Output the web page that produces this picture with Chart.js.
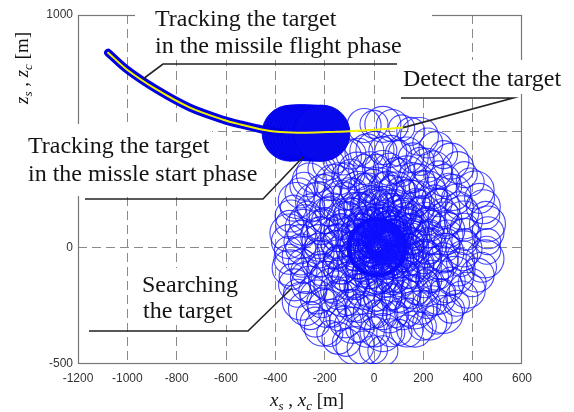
<!DOCTYPE html>
<html>
<head>
<meta charset="utf-8">
<script src="https://cdn.jsdelivr.net/npm/chart.js@4.4.0/dist/chart.umd.min.js"></script>
<style>
html,body{margin:0;padding:0;background:#fff;}
#c{display:block;}
</style>
</head>
<body>
<canvas id="c" width="574" height="412"></canvas>
<script>
// ---- data (metres) ----
const xTicks = [-1200,-1000,-800,-600,-400,-200,0,200,400,600];
const yTicks = [-500,0,500,1000];

// search beam footprints, sweep arm 1 (centres)
const searchX = [36,36,36,36,35,33,32,30,28,26,23,20,17,14,11,8,6,3,0,-2,-4,-6,-8,-9,-10,-10,-10,-9,-7,-5,-3,0,4,8,12,18,23,30,36,43,50,58,65,73,81,88,96,103,110,117,124,130,135,140,144,147,149,151,152,151,150,148,145,141,135,129,122,114,105,95,84,73,61,49,36,23,9,-4,-18,-32,-45,-58,-71,-83,-94,-105,-115,-124,-132,-138,-144,-148,-150,-152,-152,-150,-147,-142,-136,-128,-119,-109,-97,-84,-69,-54,-37,-20,-2,17,36,56,76,95,115,135,153,172,190,206,222,237,250,262,272,281,287,292,295,296,295,292,287,280,271,260,247,232,216,198,178,157,134,111,87,62,36,10,-16,-42,-68,-93,-118,-142,-165,-186,-206,-224,-241,-256,-269,-279,-287,-293,-296,-297,-295,-291,-284,-274,-262,-248,-231,-212,-191,-167,-142,-116,-87,-58,-27,4,36,68,101,133,165,196,226,256,283,310,334,356,378,398,418,436,450,457,461,462,460,453,443,428,410,390,366,340,312,282,251,218,184,149,112,74,36,0,-40];
const searchY = [26,28,30,32,34,36,38,40,41,42,42,43,43,42,41,40,38,36,33,30,26,22,18,13,8,3,-2,-7,-13,-18,-23,-29,-34,-38,-43,-47,-50,-53,-56,-58,-59,-59,-59,-58,-56,-53,-50,-45,-40,-34,-28,-20,-12,-4,6,16,26,37,48,59,70,82,93,104,114,125,135,144,153,160,168,174,178,182,185,187,187,186,184,180,175,169,161,152,142,131,118,105,91,76,60,43,26,9,-9,-27,-45,-62,-79,-96,-112,-128,-142,-155,-168,-179,-188,-196,-203,-208,-211,-212,-211,-209,-204,-198,-190,-180,-168,-155,-140,-123,-105,-86,-65,-44,-21,2,26,50,75,99,123,147,170,193,214,234,253,271,287,301,313,323,331,337,340,341,339,336,329,320,309,296,280,262,242,220,196,171,144,116,87,57,26,-5,-36,-67,-98,-128,-157,-185,-212,-237,-261,-282,-302,-319,-334,-346,-355,-362,-365,-366,-364,-358,-350,-338,-324,-307,-287,-264,-239,-212,-183,-151,-118,-84,-48,-11,26,64,102,139,176,212,248,282,314,344,372,400,425,450,478,500,515,525,530,530,525];

// search beam footprints, sweep arm 2 (centres)
const search2X = [36,36,36,36,37,39,40,42,44,46,49,52,55,58,61,64,66,69,72,74,76,78,80,81,82,82,82,81,79,77,75,72,68,64,60,54,49,42,36,29,22,14,7,-1,-9,-16,-24,-31,-38,-45,-52,-58,-63,-68,-72,-75,-77,-79,-80,-79,-78,-76,-73,-69,-63,-57,-50,-42,-33,-23,-12,-1,11,23,36,49,63,76,90,104,117,130,143,155,166,177,187,196,204,210,216,220,222,224,224,222,219,214,208,200,191,181,169,156,141,126,109,92,74,55,36,16,-4,-23,-43,-63,-81,-100,-118,-134,-150,-165,-178,-190,-200,-209,-215,-220,-223,-224,-223,-220,-215,-208,-199,-188,-175,-160,-144,-126,-106,-85,-62,-39,-15,10,36,62,88,114,140,165,190,214,237,258,278,296,313,328,341,351,359,365,368,369,367,363,356,346,334,320,303,284,263,239,214,188,159,130,99,68,36,4,-29,-61,-93,-124,-154,-184,-211,-238,-262,-284,-300,-315,-327,-336,-342,-345,-347,-347,-345,-340,-332,-322,-310,-295,-278,-258,-238,-209,-179,-146,-112,-77,-40,-2,36];
const search2Y = [26,24,22,20,18,16,14,12,11,10,10,9,9,10,11,12,14,16,19,22,26,30,34,39,44,49,54,59,65,70,75,81,86,90,95,99,102,105,108,110,111,111,111,110,108,105,102,97,92,86,80,72,64,56,46,36,26,15,4,-7,-18,-30,-41,-52,-62,-73,-83,-92,-101,-108,-116,-122,-126,-130,-133,-135,-135,-134,-132,-128,-123,-117,-109,-100,-90,-79,-66,-53,-39,-24,-8,9,26,43,61,79,97,114,131,148,164,180,194,207,220,231,240,248,255,260,263,264,263,261,256,250,242,232,220,207,192,175,157,138,117,96,73,50,26,2,-23,-47,-71,-95,-118,-141,-162,-182,-201,-219,-235,-249,-261,-271,-279,-285,-288,-289,-287,-284,-277,-268,-257,-244,-228,-210,-190,-168,-144,-119,-92,-64,-35,-5,26,57,88,119,150,180,209,237,264,289,313,334,354,371,386,398,407,414,417,418,416,410,402,390,376,359,339,316,291,264,235,203,170,136,100,63,26,-12,-50,-87,-124,-160,-196,-230,-262,-292,-320,-346,-369,-389,-407,-421,-431,-439,-443];

// dwell footprints at the start of the search
const dwellX = [12,8,16,10,14,6,18,12,4,20];
const dwellY = [0,4,-4,-6,6,-2,2,8,4,-2];

// tracking footprints in the missile start phase
const blobX = [-340,-325,-310,-295,-280,-265,-250,-235,-220,-211];
const blobY = [492,493,494,494,494,493,493,492,492,492];

// target track (yellow)
const trackX = [-1078,-1001,-880,-746,-612,-543,-450,-381,-272,-150,-97,0,118];
const trackY = [838,765,679,602,550,530,507,497,494,498,500,507,516];
const flightCount = 8; // first points = missile flight phase (outlined)

if (searchX.length !== searchY.length) throw new Error('arm1 ' + searchX.length + ' vs ' + searchY.length);
if (search2X.length !== search2Y.length) throw new Error('arm2 ' + search2X.length + ' vs ' + search2Y.length);

const pts = (xs, ys) => xs.map((x, i) => ({x, y: ys[i]}));

const grey = '#8a8a8a';
const sizesA = [13, 16, 18, 14, 17, 15, 19, 14];
const sizesB = [17, 14, 15, 18, 13, 16, 14, 19];

const annot = {
  id: 'annot',
  beforeDatasetsDraw(chart) {
    const {ctx, chartArea: a} = chart;
    ctx.save();
    ctx.setLineDash([]);
    ctx.strokeStyle = '#777';
    ctx.lineWidth = 1.2;
    ctx.strokeRect(a.left + 0.5, a.top + 0.5, a.right - a.left - 1, a.bottom - a.top - 1);
    ctx.restore();
  },
  afterDraw(chart) {
    const ctx = chart.ctx;
    const xs = chart.scales.x, ys = chart.scales.y;
    ctx.save();
    ctx.setLineDash([]);
    ctx.fillStyle = '#fff';
    [[135,0,297,60],[400,60,165,34],[20,124,192,36],[20,160,248,36],[138,268,102,30],[138,298,96,27]]
      .forEach(b => ctx.fillRect(b[0], b[1], b[2], b[3]));
    ctx.fillStyle = '#141414';
    ctx.font = '24px "Liberation Serif", "Times New Roman", serif';
    ctx.textBaseline = 'alphabetic';
    ctx.textAlign = 'left';
    ctx.fillText('Tracking the target', 155, 26);
    ctx.fillText('in the missile flight phase', 155, 53);
    ctx.fillText('Detect the target', 403, 86);
    ctx.fillText('Tracking the target', 28, 153);
    ctx.fillText('in the missle start phase', 28, 181);
    ctx.fillText('Searching', 142, 292);
    ctx.fillText('the target', 143, 318);
    ctx.strokeStyle = '#222';
    ctx.lineWidth = 1.6;
    const tx = xs.getPixelForValue(trackX[trackX.length - 1]);
    const ty = ys.getPixelForValue(trackY[trackY.length - 1]);
    const polys = [
      [[397,64],[163,64],[143,79]],
      [[401,98],[513,98],[tx,ty]],
      [[85,199],[263,199],[303,157]],
      [[89,331],[248,331],[292,288]]
    ];
    polys.forEach(p => {
      ctx.beginPath();
      ctx.moveTo(p[0][0], p[0][1]);
      for (let i = 1; i < p.length; i++) ctx.lineTo(p[i][0], p[i][1]);
      ctx.stroke();
    });
    const rich = (parts, x, y) => {
      parts.forEach(p => {
        ctx.font = (p.i ? 'italic ' : '') + (p.sub ? '13px' : '19px') + ' "Liberation Serif", serif';
        ctx.fillText(p.t, x, y + (p.sub ? 4 : 0));
        x += ctx.measureText(p.t).width;
      });
    };
    ctx.fillStyle = '#111';
    rich([{t:'x',i:1},{t:'s',i:1,sub:1},{t:' , '},{t:'x',i:1},{t:'c',i:1,sub:1},{t:' [m]'}], 270, 406);
    ctx.save();
    ctx.translate(28, 104);
    ctx.rotate(-Math.PI / 2);
    rich([{t:'z',i:1},{t:'s',i:1,sub:1},{t:' , '},{t:'z',i:1},{t:'c',i:1,sub:1},{t:' [m]'}], 0, 0);
    ctx.restore();
    ctx.restore();
  }
};

const edgeColor = (lo, hi) => c => (c.tick && (c.tick.value === lo || c.tick.value === hi)) ? 'rgba(0,0,0,0)' : grey;
const tickFont = {family: '"Liberation Sans", Arial, sans-serif', size: 12};
const footprint = (xsArr, ysArr, sizes, order) => ({
  label: 'search',
  data: pts(xsArr, ysArr),
  pointRadius: c => sizes[c.dataIndex % sizes.length],
  pointBorderWidth: 1.1,
  pointBorderColor: 'rgba(15,15,255,0.76)',
  pointBackgroundColor: 'rgba(0,0,0,0)',
  order
});

new Chart(document.getElementById('c'), {
  type: 'scatter',
  data: {
    datasets: [
      {
        label: 'track',
        data: pts(trackX, trackY),
        showLine: true,
        borderColor: '#f2f200',
        borderWidth: 2,
        pointRadius: 0,
        tension: 0.3,
        borderCapStyle: 'round',
        order: 0
      },
      {
        label: 'flight outline',
        data: pts(trackX.slice(0, flightCount), trackY.slice(0, flightCount)),
        showLine: true,
        borderColor: '#0000e0',
        borderWidth: 8,
        pointRadius: 0,
        tension: 0.3,
        borderCapStyle: 'round',
        order: 1
      },
      {
        label: 'start phase',
        data: pts(blobX, blobY),
        pointRadius: 28,
        pointBorderWidth: 1,
        pointBorderColor: 'rgba(0,0,240,0.9)',
        pointBackgroundColor: 'rgb(8,8,236)',
        order: 2
      },
      footprint(searchX, searchY, sizesA, 3),
      footprint(search2X, search2Y, sizesB, 4),
      {
        label: 'dwell',
        data: pts(dwellX, dwellY),
        pointRadius: 28,
        pointBorderWidth: 1.2,
        pointBorderColor: 'rgba(0,0,255,0.85)',
        pointBackgroundColor: 'rgba(0,0,0,0)',
        order: 5
      }
    ]
  },
  options: {
    responsive: false,
    animation: false,
    devicePixelRatio: 1,
    events: [],
    layout: {autoPadding: false, padding: {top: 15, right: 52, left: 0, bottom: 0}},
    plugins: {legend: {display: false}, tooltip: {enabled: false}},
    scales: {
      x: {
        type: 'linear', min: -1200, max: 600,
        afterBuildTicks: s => { s.ticks = xTicks.map(v => ({value: v})); },
        afterFit: s => { s.height = 48; },
        ticks: {autoSkip: false, maxRotation: 0, padding: 7, color: '#333', font: tickFont, callback: v => String(v)},
        grid: {color: edgeColor(-1200, 600), lineWidth: 1, drawTicks: false},
        border: {display: false, dash: [9, 5]}
      },
      y: {
        type: 'linear', min: -500, max: 1000,
        afterBuildTicks: s => { s.ticks = yTicks.map(v => ({value: v})); },
        afterFit: s => { s.width = 78; },
        ticks: {autoSkip: false, padding: 5, color: '#333', font: tickFont, callback: v => String(v)},
        grid: {color: edgeColor(-500, 1000), lineWidth: 1, drawTicks: false},
        border: {display: false, dash: [9, 5]}
      }
    }
  },
  plugins: [annot]
});
</script>
</body>
</html>
